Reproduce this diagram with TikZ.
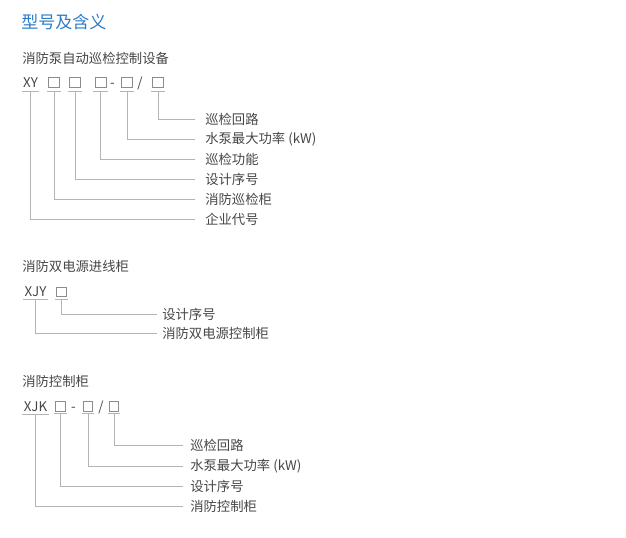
\documentclass[tikz,border=0pt]{standalone}
\usepackage{fontspec}
\setmainfont{Noto Sans CJK SC}
\definecolor{titlec}{HTML}{2B7CC7}
\definecolor{txtc}{HTML}{464646}
\definecolor{linec}{HTML}{B4B4B4}
\definecolor{boxc}{HTML}{8C8C8C}
\tikzset{
  txt/.style={font=\fontsize{10}{12}\selectfont, text=txtc, inner sep=0pt},
  code/.style={txt, text height=7.2pt, text depth=0pt},
  lab/.style={txt, anchor=west},
  hdr/.style={txt, anchor=west},
  sqa/.style={draw=boxc, line width=0.6pt, inner sep=0pt, minimum width=8.25pt, minimum height=7.2pt},
  sqb/.style={draw=boxc, line width=0.6pt, inner sep=0pt, minimum width=7pt, minimum height=7pt},
  ln/.style={draw=linec, line width=0.75pt},
}
\begin{document}
\begin{tikzpicture}[x=0.75pt,y=-0.75pt]
\useasboundingbox (0,0) rectangle (626,537);
% title
\node[anchor=west, inner sep=0pt, font=\fontsize{12.75}{14}\selectfont, text=titlec] (title) at (21,22) {型号及含义};

% ---------- section 1
\node[hdr] (h1) at (22,58.5) {消防泵自动巡检控制设备};
\node[code] (xy) at (30.5,83) {XY};
\node[sqa] (a1) at (54,82.5) {};
\node[sqa] (a2) at (75,82.5) {};
\node[sqa] (a3) at (100.5,82.5) {};
\node[code] (d1) at (112.5,83) {-};
\node[sqa] (a4) at (127,82.5) {};
\node[code] (s1) at (140,83) {/};
\node[sqa] (a5) at (158,82.5) {};

\node[lab] (l1) at (205,119) {巡检回路};
\node[lab] (l2) at (205,139) {水泵最大功率 (kW)};
\node[lab] (l3) at (205,159) {巡检功能};
\node[lab] (l4) at (205,179) {设计序号};
\node[lab] (l5) at (205,199) {消防巡检柜};
\node[lab] (l6) at (205,219) {企业代号};

\foreach \n in {xy,a1,a2,a3,a4,a5}{
  \draw[ln] ([xshift=-1pt,yshift=-2.6pt]\n.south west) -- ([xshift=1pt,yshift=-2.6pt]\n.south east);
}
\foreach \n/\m in {a5/l1,a4/l2,a3/l3,a2/l4,a1/l5,xy/l6}{
  \draw[ln, shorten >=7.5pt] ([yshift=-2.6pt]\n.south) |- (\m.west);
}

% ---------- section 2
\node[hdr] (h2) at (22,266) {消防双电源进线柜};
\node[code] (xjy) at (35.5,292) {XJY};
\node[sqb] (b1) at (61.5,292) {};
\node[lab] (m1) at (162,314) {设计序号};
\node[lab] (m2) at (162,333) {消防双电源控制柜};
\foreach \n in {xjy,b1}{
  \draw[ln] ([xshift=-1pt,yshift=-1.7pt]\n.south west) -- ([xshift=1pt,yshift=-1.7pt]\n.south east);
}
\foreach \n/\m in {b1/m1,xjy/m2}{
  \draw[ln, shorten >=4.1pt] ([yshift=-1.7pt]\n.south) |- (\m.west);
}

% ---------- section 3
\node[hdr] (h3) at (22,381) {消防控制柜};
\node[code] (xjk) at (35.5,407) {XJK};
\node[sqb] (c1) at (60.5,406.5) {};
\node[code] (d3) at (73.5,407) {-};
\node[sqb] (c2) at (88,406.5) {};
\node[code] (s3) at (101,407) {/};
\node[sqb] (c3) at (114,406.5) {};
\node[lab] (n1) at (190,445) {巡检回路};
\node[lab] (n2) at (190,466) {水泵最大功率 (kW)};
\node[lab] (n3) at (190,486.5) {设计序号};
\node[lab] (n4) at (190,506) {消防控制柜};
\foreach \n in {xjk,c1,c2,c3}{
  \draw[ln] ([xshift=-1pt,yshift=-1.5pt]\n.south west) -- ([xshift=1pt,yshift=-1.5pt]\n.south east);
}
\foreach \n/\m in {c3/n1,c2/n2,c1/n3,xjk/n4}{
  \draw[ln, shorten >=5.25pt] ([yshift=-1.5pt]\n.south) |- (\m.west);
}
\end{tikzpicture}
\end{document}
